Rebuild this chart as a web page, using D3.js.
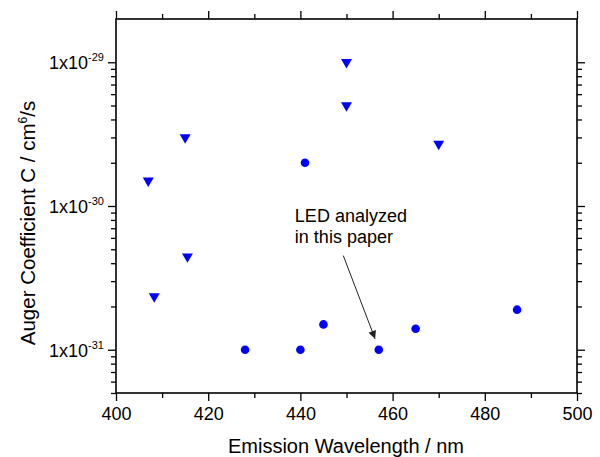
<!DOCTYPE html>
<html>
<head>
<meta charset="utf-8">
<script src="https://cdn.jsdelivr.net/npm/d3@7"></script>
<style>
  html, body { margin: 0; padding: 0; background: #fff; }
  svg { display: block; font-family: Arial, "Liberation Sans", sans-serif; }
</style>
</head>
<body>
<svg id="chart" width="600" height="457"></svg>
<script>
// Auger coefficient C versus emission wavelength (log scale)
const triWavelength = [407, 408.3, 415, 415.5, 450, 450, 470];
const triAuger      = [1.5e-30, 2.35e-31, 3e-30, 4.45e-31, 1e-29, 5e-30, 2.7e-30];

const dotWavelength = [428, 440, 441, 445, 457, 465, 487];
const dotAuger      = [1e-31, 1e-31, 2e-30, 1.5e-31, 1e-31, 1.4e-31, 1.9e-31];

const xTicks = [400, 420, 440, 460, 480, 500];
const xMinorTicks = [410, 430, 450, 470, 490];
const yTicks = [1e-31, 1e-30, 1e-29];
const yTickExponents = ["-31", "-30", "-29"];
const yMinorTicks = [5e-32, 6e-32, 7e-32, 8e-32, 9e-32,
  2e-31, 3e-31, 4e-31, 5e-31, 6e-31, 7e-31, 8e-31, 9e-31,
  2e-30, 3e-30, 4e-30, 5e-30, 6e-30, 7e-30, 8e-30, 9e-30];

// annotation: label corner and arrow tail/tip in data units
const noteLines = ["LED analyzed", "in this paper"];
const noteAt = [438.8, 7.7e-31];
const arrowFrom = [449.3, 4.52e-31];
const arrowTo = [456.2, 1.19e-31];

const margin = { left: 116, right: 23, top: 19, bottom: 64 };
const W = 600, H = 457;
const svg = d3.select("#chart");

const x = d3.scaleLinear().domain([400, 500]).range([margin.left, W - margin.right]);
const y = d3.scaleLog().domain([5e-32, 2e-29]).range([H - margin.bottom, margin.top]);

const fontSize = 18;
const axisStroke = 1.6;

function styleAxis(g) {
  g.select(".domain").remove();
  g.selectAll(".tick line").attr("stroke", "#000").attr("stroke-width", 1.3);
}

// bottom axis
svg.append("g")
  .attr("transform", `translate(0,${y.range()[0]})`)
  .call(d3.axisBottom(x).tickValues(xTicks).tickSize(8).tickPadding(6).tickFormat(d3.format("d")))
  .call(styleAxis)
  .call(g => g.selectAll("text").attr("font-size", fontSize).attr("fill", "#000")
    .attr("font-family", "Arial, 'Liberation Sans', sans-serif"));
svg.append("g")
  .attr("transform", `translate(0,${y.range()[0]})`)
  .call(d3.axisBottom(x).tickValues(xMinorTicks).tickSize(5).tickFormat(""))
  .call(styleAxis);

// top axis
svg.append("g")
  .attr("transform", `translate(0,${y.range()[1]})`)
  .call(d3.axisTop(x).tickValues(xTicks).tickSize(8).tickFormat(""))
  .call(styleAxis);
svg.append("g")
  .attr("transform", `translate(0,${y.range()[1]})`)
  .call(d3.axisTop(x).tickValues(xMinorTicks).tickSize(5).tickFormat(""))
  .call(styleAxis);

// left axis
svg.append("g")
  .attr("transform", `translate(${x.range()[0]},0)`)
  .call(d3.axisLeft(y).tickValues(yTicks).tickSize(8).tickFormat(""))
  .call(styleAxis);
svg.append("g")
  .attr("transform", `translate(${x.range()[0]},0)`)
  .call(d3.axisLeft(y).tickValues(yMinorTicks).tickSize(5).tickFormat(""))
  .call(styleAxis);

// left tick labels as 1x10^n
yTicks.forEach((v, i) => {
  const t = svg.append("text")
    .attr("x", x.range()[0] - 12)
    .attr("y", y(v) + 7)
    .attr("text-anchor", "end")
    .attr("font-size", fontSize)
    .attr("fill", "#000");
  t.append("tspan").text("1x10");
  t.append("tspan").attr("dy", -8).attr("font-size", 11).text(yTickExponents[i]);
});

// right axis
svg.append("g")
  .attr("transform", `translate(${x.range()[1]},0)`)
  .call(d3.axisRight(y).tickValues(yTicks).tickSize(8).tickFormat(""))
  .call(styleAxis);
svg.append("g")
  .attr("transform", `translate(${x.range()[1]},0)`)
  .call(d3.axisRight(y).tickValues(yMinorTicks).tickSize(5).tickFormat(""))
  .call(styleAxis);

// frame
svg.append("rect")
  .attr("x", x.range()[0]).attr("y", y.range()[1])
  .attr("width", x.range()[1] - x.range()[0])
  .attr("height", y.range()[0] - y.range()[1])
  .attr("fill", "none").attr("stroke", "#000").attr("stroke-width", axisStroke);

// markers
const blue = "#0000ff";
svg.append("g").selectAll("path")
  .data(triWavelength.map((w, i) => [w, triAuger[i]]))
  .join("path")
  .attr("transform", d => `translate(${x(d[0])},${y(d[1])}) rotate(180)`)
  .attr("d", d3.symbol(d3.symbolTriangle, 52))
  .attr("fill", blue);

svg.append("g").selectAll("circle")
  .data(dotWavelength.map((w, i) => [w, dotAuger[i]]))
  .join("circle")
  .attr("cx", d => x(d[0]))
  .attr("cy", d => y(d[1]))
  .attr("r", 4.3)
  .attr("fill", blue);

// annotation
const note = svg.append("text")
  .attr("x", x(noteAt[0])).attr("y", y(noteAt[1]))
  .attr("font-size", fontSize).attr("fill", "#000");
noteLines.forEach((s, i) => {
  note.append("tspan").attr("x", x(noteAt[0])).attr("dy", i === 0 ? 0 : 21).text(s);
});

svg.append("defs").append("marker")
  .attr("id", "arrowhead")
  .attr("viewBox", "0 0 10 10")
  .attr("refX", 10).attr("refY", 5)
  .attr("markerWidth", 10).attr("markerHeight", 8)
  .attr("markerUnits", "userSpaceOnUse")
  .attr("orient", "auto")
  .append("path").attr("d", "M0,0 L10,5 L0,10 Z").attr("fill", "#222");

svg.append("line")
  .attr("x1", x(arrowFrom[0])).attr("y1", y(arrowFrom[1]))
  .attr("x2", x(arrowTo[0])).attr("y2", y(arrowTo[1]))
  .attr("stroke", "#222").attr("stroke-width", 1)
  .attr("marker-end", "url(#arrowhead)");

// axis titles
svg.append("text")
  .attr("x", (x.range()[0] + x.range()[1]) / 2 - 0.5)
  .attr("y", 453)
  .attr("text-anchor", "middle")
  .attr("font-size", 20).attr("fill", "#000")
  .text("Emission Wavelength / nm");

const yTitle = svg.append("text")
  .attr("transform", "translate(35,223) rotate(-90)")
  .attr("text-anchor", "middle")
  .attr("font-size", 20.5).attr("fill", "#000");
yTitle.append("tspan").text("Auger Coefficient C / cm");
yTitle.append("tspan").attr("dy", -8).attr("font-size", 12).text("6");
yTitle.append("tspan").attr("dy", 8).text("/s");
</script>
</body>
</html>
